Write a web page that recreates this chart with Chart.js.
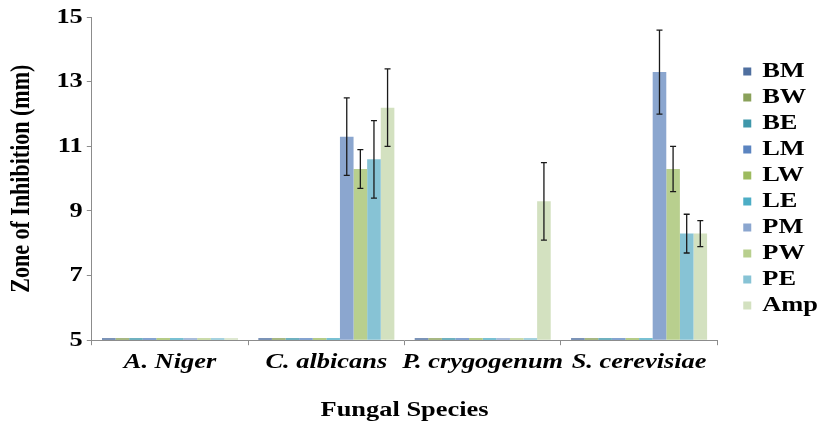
<!DOCTYPE html>
<html>
<head>
<meta charset="utf-8">
<script src="https://cdn.jsdelivr.net/npm/chart.js@4"></script>
<style>
  html, body { margin: 0; padding: 0; background: #fff; }
  #wrap { width: 820px; height: 424px; }
</style>
</head>
<body>
<div id="wrap"><canvas id="barCanvas"></canvas></div>
<script>
const species = ["A. Niger", "C. albicans", "P. crygogenum", "S. cerevisiae"];
const seriesNames = ["BM", "BW", "BE", "LM", "LW", "LE", "PM", "PW", "PE", "Amp"];
const seriesColors = ["#4f6f9f", "#8aa15a", "#3f97aa", "#5b84c0", "#9dbb5f", "#4cadc5", "#8ba6cf", "#b8cf8e", "#87c3d5", "#d3e1c0"];

// zone of inhibition (mm), 5 = nothing above the axis floor
const bm  = [5, 5, 5, 5];
const bw  = [5, 5, 5, 5];
const be  = [5, 5, 5, 5];
const lm  = [5, 5, 5, 5];
const lw  = [5, 5, 5, 5];
const le  = [5, 5, 5, 5];
const pm  = [5, 11.3, 5, 13.3];
const pw  = [5, 10.3, 5, 10.3];
const pe  = [5, 10.6, 5, 8.3];
const amp = [5, 12.2, 9.3, 8.3];

// error (+/-)
const pmErr  = [0, 1.2, 0, 1.3];
const pwErr  = [0, 0.6, 0, 0.7];
const peErr  = [0, 1.2, 0, 0.6];
const ampErr = [0, 1.2, 1.2, 0.4];

const yTicks = [5, 7, 9, 11, 13, 15];

const seriesValues = [bm, bw, be, lm, lw, le, pm, pw, pe, amp];
const seriesErrors = [null, null, null, null, null, null, pmErr, pwErr, peErr, ampErr];

const serif = "'Liberation Serif', 'Times New Roman', serif";
const STRETCH = 1.2; // the original text is drawn wide

// widen all text horizontally, keep layout aware of it
const wideText = {
    id: "wideText",
    beforeInit(chart) {
        const ctx = chart.ctx;
        const fill = ctx.fillText.bind(ctx);
        const measure = ctx.measureText.bind(ctx);
        ctx.fillText = (text, x, y, maxWidth) => {
            const t = ctx.getTransform();
            ctx.save();
            ctx.translate(x, y);
            if (Math.abs(t.b) > 0.5) ctx.scale(1, STRETCH);
            else ctx.scale(STRETCH, 1);
            if (maxWidth === undefined) fill(text, 0, 0);
            else fill(text, 0, 0, maxWidth / STRETCH);
            ctx.restore();
        };
        ctx.measureText = (text) => {
            const m = measure(text);
            return {
                width: m.width * STRETCH,
                actualBoundingBoxAscent: m.actualBoundingBoxAscent,
                actualBoundingBoxDescent: m.actualBoundingBoxDescent,
                actualBoundingBoxLeft: m.actualBoundingBoxLeft * STRETCH,
                actualBoundingBoxRight: m.actualBoundingBoxRight * STRETCH
            };
        };
    }
};

const errorBars = {
    id: "errorBars",
    afterDatasetsDraw(chart) {
        const ctx = chart.ctx;
        const y = chart.scales.y;
        ctx.save();
        ctx.strokeStyle = "#1a1a1a";
        ctx.lineWidth = 1.3;
        chart.data.datasets.forEach((ds, di) => {
            if (!ds.errors) return;
            const meta = chart.getDatasetMeta(di);
            ds.errors.forEach((e, i) => {
                if (!e) return;
                const x = meta.data[i].x;
                const top = y.getPixelForValue(ds.data[i] + e);
                const bot = y.getPixelForValue(ds.data[i] - e);
                ctx.beginPath();
                ctx.moveTo(x, top); ctx.lineTo(x, bot);
                ctx.moveTo(x - 3, top); ctx.lineTo(x + 3, top);
                ctx.moveTo(x - 3, bot); ctx.lineTo(x + 3, bot);
                ctx.stroke();
            });
        });
        ctx.restore();
    }
};

const barChart = new Chart(document.getElementById("barCanvas"), {
    type: "bar",
    data: {
        labels: species,
        datasets: seriesNames.map((name, i) => ({
            label: name,
            data: seriesValues[i],
            errors: seriesErrors[i],
            backgroundColor: seriesColors[i],
            base: 5,
            minBarLength: 2,
            categoryPercentage: 0.87,
            barPercentage: 1
        }))
    },
    options: {
        responsive: true,
        maintainAspectRatio: false,
        animation: false,
        layout: {
            padding: { top: 8, right: -8, left: 9, bottom: 0 }
        },
        plugins: {
            legend: {
                position: "right",
                align: "start",
                title: {
                    display: true,
                    text: " ",
                    padding: { top: 34, bottom: 0 },
                    font: { size: 12 }
                },
                labels: {
                    boxWidth: 8,
                    boxHeight: 8,
                    padding: 4,
                    color: "#000",
                    font: { family: serif, size: 22, weight: "bold" }
                }
            },
            tooltip: { enabled: false }
        },
        scales: {
            x: {
                border: { color: "#8c8c8c" },
                grid: { display: true, drawOnChartArea: false, tickLength: 5, color: "#8c8c8c" },
                ticks: {
                    color: "#000",
                    padding: 4,
                    autoSkip: false,
                    maxRotation: 0,
                    font: { family: serif, size: 22, weight: "bold", style: "italic" }
                },
                title: {
                    display: true,
                    text: "Fungal Species",
                    color: "#000",
                    padding: { top: 18, bottom: 0 },
                    font: { family: serif, size: 22, weight: "bold" }
                }
            },
            y: {
                min: 5,
                max: 15,
                afterBuildTicks: (axis) => {
                    axis.ticks = yTicks.map(v => ({ value: v }));
                },
                border: { color: "#8c8c8c" },
                grid: { display: true, drawOnChartArea: false, tickLength: 5, color: "#8c8c8c" },
                ticks: {
                    color: "#000",
                    padding: 4,
                    font: { family: serif, size: 22, weight: "bold" }
                },
                title: {
                    display: true,
                    text: "Zone of Inhibition (mm)",
                    color: "#000",
                    padding: { top: 0, bottom: 17 },
                    font: { family: serif, size: 22, weight: "bold" }
                }
            },
            gap: {
                position: "right",
                display: true,
                grid: { display: false },
                border: { display: false },
                ticks: { display: false },
                afterFit: (s) => { s.width = 22; }
            }
        }
    },
    plugins: [wideText, errorBars]
});
</script>
</body>
</html>
